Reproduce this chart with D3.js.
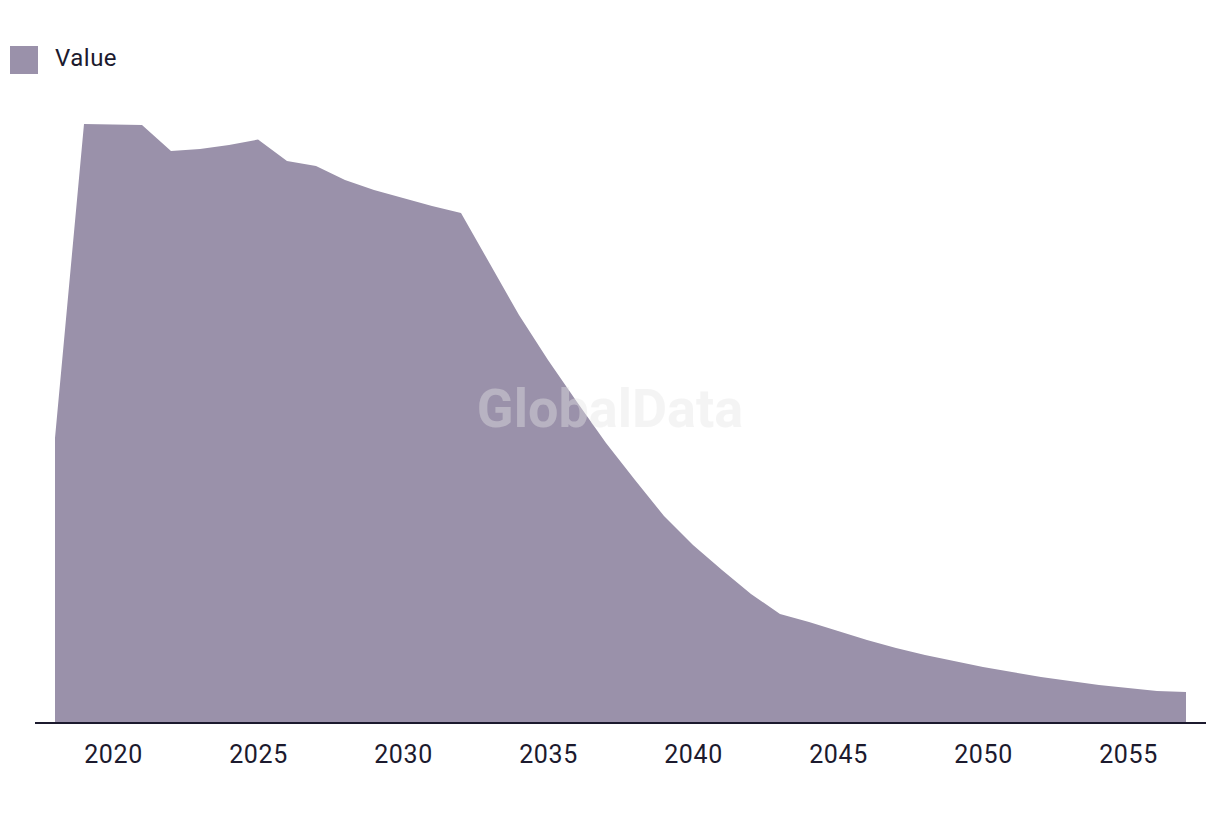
<!DOCTYPE html>
<html>
<head>
<meta charset="utf-8">
<script src="https://cdn.jsdelivr.net/npm/d3@7"></script>
<style>
  body { margin: 0; background: #fff; }
  svg { display: block; font-family: Roboto, "Noto Sans", sans-serif; }
</style>
</head>
<body>
<svg id="chart" width="1220" height="814"></svg>
<script>
// data
const years = d3.range(2018, 2058)
const values = [28.4, 59.8, 59.75, 59.7, 57.1, 57.3, 57.7, 58.25, 56.1, 55.6,
  54.2, 53.2, 52.4, 51.6, 50.9, 45.8, 40.7, 36.2, 32.0, 27.9,
  24.2, 20.6, 17.7, 15.2, 12.8, 10.8, 10.0, 9.1, 8.2, 7.4,
  6.7, 6.1, 5.5, 5.0, 4.5, 4.1, 3.7, 3.4, 3.1, 3.0]
const tickYears = [2020, 2025, 2030, 2035, 2040, 2045, 2050, 2055]
const seriesName = "Value"

const fill = "#9a91aa"
const ink = "#1c1a2e"

var svg = d3.select("#chart")

var x = d3.scaleLinear().domain([2018, 2057]).range([55, 1186])
var y = d3.scaleLinear().domain([0, 60]).range([722, 122])

const data = years.map((yr, i) => ({year: yr, value: values[i]}))

var area = d3.area()
  .x(d => x(d.year))
  .y0(y(0))
  .y1(d => y(d.value))

svg.append("path")
  .datum(data)
  .attr("d", area)
  .attr("fill", fill)

// watermark
svg.append("text")
  .attr("x", 610)
  .attr("y", 427)
  .attr("text-anchor", "middle")
  .style("font-size", "54px")
  .style("font-weight", "bold")
  .attr("fill", "#e6e6e6")
  .attr("opacity", 0.4)
  .text("GlobalData")

// x axis
var xAxis = d3.axisBottom(x)
  .tickValues(tickYears)
  .tickFormat(d3.format("d"))
  .tickSize(0)
  .tickPadding(22)

var gx = svg.append("g")
  .attr("transform", "translate(0,723)")
  .call(xAxis)
gx.select(".domain").remove()
gx.selectAll("text")
  .style("font-size", "25px")
  .style("font-family", "Roboto, sans-serif")
  .style("letter-spacing", "0.6px")
  .attr("fill", ink)

svg.append("line")
  .attr("x1", 35).attr("x2", 1206)
  .attr("y1", 723).attr("y2", 723)
  .attr("stroke", ink)
  .attr("stroke-width", 2)

// legend
var legend = svg.append("g")
legend.append("rect")
  .attr("x", 10).attr("y", 46)
  .attr("width", 28).attr("height", 28)
  .attr("fill", fill)
legend.append("text")
  .attr("x", 55).attr("y", 66)
  .style("font-size", "24px")
  .style("letter-spacing", "0.5px")
  .attr("fill", ink)
  .text(seriesName)
</script>
</body>
</html>
